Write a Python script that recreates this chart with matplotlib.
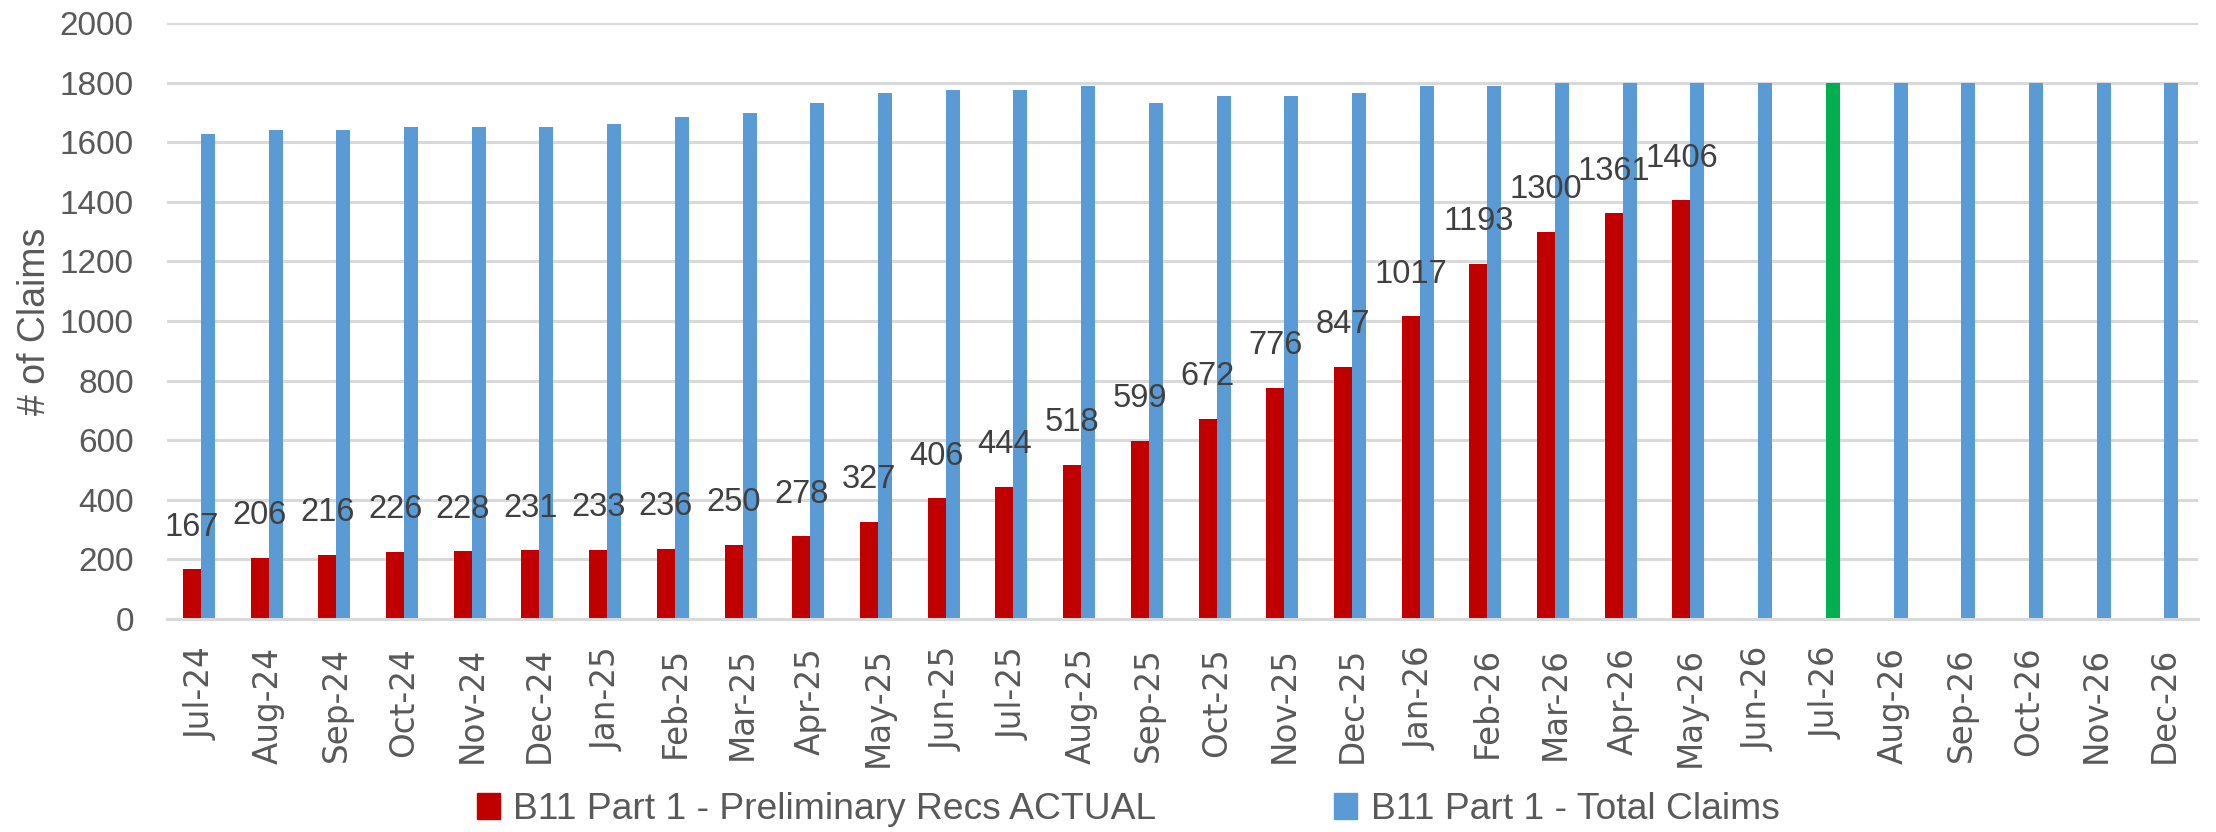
import matplotlib
matplotlib.use('Agg')
import numpy as np
import matplotlib.pyplot as plt
from matplotlib.patches import Patch

months = ['Jul-24', 'Aug-24', 'Sep-24', 'Oct-24', 'Nov-24', 'Dec-24',
          'Jan-25', 'Feb-25', 'Mar-25', 'Apr-25', 'May-25', 'Jun-25',
          'Jul-25', 'Aug-25', 'Sep-25', 'Oct-25', 'Nov-25', 'Dec-25',
          'Jan-26', 'Feb-26', 'Mar-26', 'Apr-26', 'May-26', 'Jun-26',
          'Jul-26', 'Aug-26', 'Sep-26', 'Oct-26', 'Nov-26', 'Dec-26']

# preliminary recs actual (only up to May-26)
prelim_recs = [167, 206, 216, 226, 228, 231, 233, 236, 250, 278, 327, 406,
               444, 518, 599, 672, 776, 847, 1017, 1193, 1300, 1361, 1406]

# total claims
total_claims = [1628, 1641, 1641, 1652, 1652, 1652, 1662, 1686, 1698, 1733,
                1766, 1776, 1776, 1790, 1733, 1755, 1755, 1766, 1790, 1790,
                1800, 1800, 1800, 1800, 1800, 1800, 1800, 1800, 1800, 1800]

highlight_month = 'Jul-26'

red = '#C00000'
blue = '#5B9BD5'
green = '#00B050'
grid_col = '#D9D9D9'
sans = ['Liberation Sans', 'DejaVu Sans']

fig = plt.figure(figsize=(22.16, 8.32), dpi=100)
ax = fig.add_axes([0.0754, 0.256, 0.9166, 0.7163])

x = np.arange(len(months))
w_red = 0.266
w_blue = 0.207
blue_cols = [green if m == highlight_month else blue for m in months]

xr = x[:len(prelim_recs)]
ax.bar(xr - w_red / 2, prelim_recs, width=w_red, color=red, zorder=2)
ax.bar(x + w_blue / 2, total_claims, width=w_blue, color=blue_cols, zorder=2)

# data labels over the red bars
for xi, v in zip(xr, prelim_recs):
    ax.annotate(str(v), (xi - w_red / 2, v), xytext=(0, 24), textcoords='offset points',
                ha='center', va='baseline', fontsize=23.5, color='#404040',
                family=sans, zorder=4)

ax.set_xlim(-0.5, len(months) - 0.5)
ax.set_ylim(0, 2000)
ax.set_yticks(np.arange(0, 2001, 200))
ax.yaxis.grid(True, color=grid_col, linewidth=2.2, zorder=0)
ax.set_axisbelow(True)
for s in ['top', 'right', 'left']:
    ax.spines[s].set_visible(False)
ax.spines['bottom'].set_color(grid_col)
ax.spines['bottom'].set_linewidth(2.2)

ax.set_xticks(x)
ax.set_xticklabels(months, rotation=90, fontsize=23.5, color='#595959',
                   family='DejaVu Sans')
for lbl in ax.get_yticklabels():
    lbl.set_family(sans)
ax.tick_params(axis='y', length=0, pad=24, labelsize=24, labelcolor='#595959')
ax.tick_params(axis='x', length=0, pad=20)

ax.set_ylabel('# of Claims', fontsize=27, color='#595959', family=sans)
ax.yaxis.set_label_coords(-0.056, 0.5)

handles = [Patch(color=red, label='B11 Part 1 - Preliminary Recs ACTUAL'),
           Patch(color=blue, label='B11 Part 1 - Total Claims')]
fig.legend(handles=handles, loc='center', bbox_to_anchor=(0.509, 0.027), ncol=2,
           frameon=False, prop={'family': sans, 'size': 26.8},
           handlelength=0.62, handleheight=0.7, handletextpad=0.35,
           columnspacing=4.8, labelcolor='#595959', borderpad=0.1)

fig.savefig('out.png', dpi=100)
